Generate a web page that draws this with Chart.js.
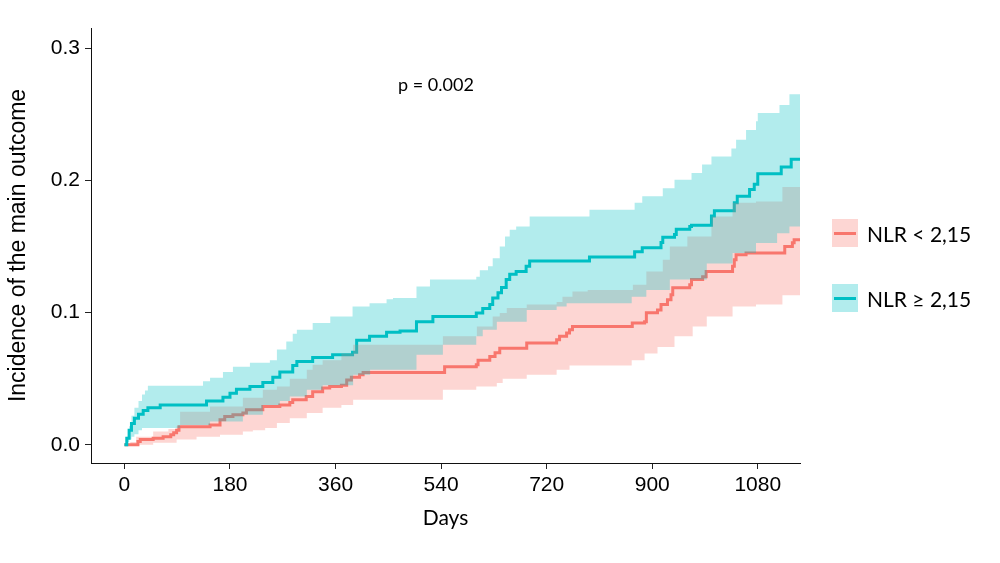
<!DOCTYPE html>
<html>
<head>
<meta charset="utf-8">
<script src="https://cdn.jsdelivr.net/npm/chart.js@4.4.0/dist/chart.umd.min.js"></script>
<style>
  html, body { margin: 0; padding: 0; background: #ffffff; }
  #wrap { position: relative; width: 1000px; height: 563px; }
  #c { position: absolute; left: 0; top: 0; }
  .ptext { position: absolute; left: 436px; top: 84px; transform: translate(-50%, -50%);
           font-family: Lato, "Open Sans", sans-serif; font-size: 18px; color: #000; white-space: nowrap; }
  .leg { position: absolute; left: 832px; height: 28px; display: flex; align-items: center; }
  .key { position: relative; width: 26px; height: 28px; }
  .key span { position: absolute; left: 2px; right: 2px; top: 12.5px; height: 3px; }
  .lab { margin-left: 9px; font-family: Lato, "Open Sans", sans-serif; font-size: 21px; color: #000; white-space: nowrap; }
</style>
</head>
<body>
<div id="wrap">
  <canvas id="c" width="1000" height="563"></canvas>
  <div class="ptext">p = 0.002</div>
  <div class="leg" style="top:219px;"><div class="key" style="background:rgba(248,118,109,0.3);"><span style="background:#F8766D;"></span></div><div class="lab">NLR &lt; 2,15</div></div>
  <div class="leg" style="top:284px;"><div class="key" style="background:rgba(0,191,196,0.3);"><span style="background:#00BFC4;"></span></div><div class="lab">NLR ≥ 2,15</div></div>
</div>
<script>
// ---- data (days, cumulative incidence) ----
const xTicks = [0, 180, 360, 540, 720, 900, 1080];
const yTicks = [0, 0.1, 0.2, 0.3];

// NLR >= 2,15 (teal)
const tealDays = [0,4,8,12,17,24,32,40,61,140,168,180,191,214,236,253,265,287,294,321,355,389,396,418,447,470,498,526,600,611,623,628,637,643,651,657,668,685,691,793,870,883,915,918,938,941,964,967,1001,1006,1040,1045,1066,1074,1080,1120,1137,1152];
const tealEst  = [0,0.005,0.011,0.016,0.020,0.023,0.026,0.028,0.030,0.033,0.036,0.039,0.042,0.044,0.047,0.051,0.055,0.060,0.063,0.066,0.068,0.070,0.079,0.082,0.085,0.086,0.093,0.097,0.0996,0.103,0.106,0.111,0.115,0.119,0.125,0.129,0.131,0.135,0.139,0.142,0.146,0.149,0.153,0.157,0.159,0.163,0.165,0.166,0.173,0.177,0.183,0.188,0.193,0.197,0.205,0.210,0.216,0.216];

const tealHiDays = [0,4,8,12,17,24,30,35,40,134,146,168,185,214,248,260,276,287,294,321,351,389,418,447,458,498,521,600,606,620,628,640,649,657,668,691,793,870,883,918,938,967,985,1001,1035,1043,1060,1077,1080,1117,1134,1152];
const tealHi     = [0,0.006,0.014,0.022,0.028,0.033,0.038,0.041,0.0446,0.048,0.0506,0.055,0.059,0.062,0.064,0.072,0.078,0.084,0.087,0.092,0.097,0.1046,0.107,0.110,0.111,0.1197,0.125,0.127,0.132,0.135,0.141,0.150,0.1576,0.1626,0.165,0.1727,0.1778,0.183,0.188,0.194,0.2005,0.2055,0.212,0.218,0.224,0.2307,0.238,0.2446,0.251,0.257,0.265,0.265];

const tealLoDays = [0,4,8,12,17,24,30,95,146,202,236,265,282,311,338,390,419,498,543,600,611,635,686,737,754,865,890,930,993,1037,1077,1113,1134,1152];
const tealLo     = [0,0.002,0.004,0.006,0.008,0.011,0.0126,0.015,0.0176,0.0227,0.030,0.033,0.0365,0.0416,0.045,0.053,0.0567,0.068,0.0756,0.082,0.087,0.093,0.102,0.1046,0.107,0.112,0.117,0.125,0.137,0.145,0.1525,0.160,0.165,0.165];

// NLR < 2,15 (red)
const redDays = [0,10,23,27,49,66,79,84,89,93,146,163,171,185,202,208,236,265,282,287,310,321,338,350,370,379,387,401,407,546,600,603,623,632,640,686,737,742,754,759,764,866,887,890,909,915,926,932,935,964,967,986,992,1037,1040,1043,1060,1126,1139,1142,1152];
const redEst  = [0,0,0.0025,0.004,0.005,0.006,0.0076,0.009,0.011,0.0136,0.015,0.019,0.0214,0.0227,0.024,0.0265,0.029,0.030,0.032,0.034,0.0365,0.040,0.043,0.044,0.045,0.049,0.051,0.053,0.0547,0.059,0.0605,0.064,0.0668,0.0695,0.073,0.077,0.0794,0.082,0.0845,0.087,0.0895,0.092,0.093,0.0998,0.102,0.106,0.1097,0.1135,0.1187,0.121,0.125,0.127,0.131,0.135,0.140,0.1437,0.145,0.150,0.1528,0.155,0.155];

const redHiDays = [0,10,20,49,75,89,95,146,202,236,260,282,311,321,338,370,390,543,601,628,640,652,686,737,747,764,790,867,890,918,930,960,1001,1037,1077,1122,1152];
const redHi     = [0,0.002,0.006,0.010,0.012,0.014,0.025,0.029,0.0355,0.0416,0.044,0.050,0.0567,0.0605,0.064,0.069,0.0756,0.082,0.0895,0.097,0.0996,0.1034,0.106,0.108,0.112,0.116,0.117,0.121,0.131,0.140,0.150,0.1576,0.1727,0.183,0.184,0.195,0.195];

const redLoDays = [0,49,89,123,163,202,219,240,260,282,311,338,370,390,543,600,635,645,686,737,759,865,887,909,938,969,993,1037,1077,1122,1152];
const redLo     = [0,0.0015,0.004,0.006,0.0076,0.010,0.011,0.0126,0.0164,0.020,0.024,0.028,0.030,0.034,0.0416,0.044,0.0467,0.050,0.053,0.0567,0.060,0.064,0.069,0.074,0.082,0.0895,0.097,0.1046,0.106,0.113,0.113];

const TEAL = '#00BFC4', RED = '#F8766D';
const TEAL_BAND = 'rgba(0,191,196,0.3)', RED_BAND = 'rgba(248,118,109,0.3)';

function pts(xs, ys) { return xs.map((x, i) => ({ x: x, y: ys[i] })); }

const common = { stepped: 'before', pointRadius: 0, pointHoverRadius: 0, tension: 0 };

const datasets = [
  Object.assign({ label: 'tealHi', data: pts(tealHiDays, tealHi), borderWidth: 0, borderColor: 'rgba(0,0,0,0)', backgroundColor: TEAL_BAND, fill: '+1', order: 1 }, common),
  Object.assign({ label: 'tealLo', data: pts(tealLoDays, tealLo), borderWidth: 0, borderColor: 'rgba(0,0,0,0)', fill: false, order: 1 }, common),
  Object.assign({ label: 'redHi', data: pts(redHiDays, redHi), borderWidth: 0, borderColor: 'rgba(0,0,0,0)', backgroundColor: RED_BAND, fill: '+1', order: 2 }, common),
  Object.assign({ label: 'redLo', data: pts(redLoDays, redLo), borderWidth: 0, borderColor: 'rgba(0,0,0,0)', fill: false, order: 2 }, common),
  Object.assign({ label: 'NLR ≥ 2,15', data: pts(tealDays, tealEst), borderWidth: 3, borderColor: TEAL, fill: false, order: 3 }, common),
  Object.assign({ label: 'NLR < 2,15', data: pts(redDays, redEst), borderWidth: 3, borderColor: RED, fill: false, order: 4 }, common)
];

const tickFont = { family: '"Liberation Sans", Arial, sans-serif', size: 21 };

new Chart(document.getElementById('c'), {
  type: 'line',
  data: { datasets: datasets },
  options: {
    responsive: false,
    animation: false,
    devicePixelRatio: 1,
    layout: { padding: { left: 0, right: 200, top: 28, bottom: 0 } },
    plugins: { legend: { display: false }, tooltip: { enabled: false } },
    scales: {
      x: {
        type: 'linear', min: -57, max: 1152,
        afterBuildTicks: s => { s.ticks = xTicks.map(v => ({ value: v })); },
        afterFit: s => { s.height = 100; },
        ticks: { font: tickFont, color: '#000', padding: 4, maxRotation: 0, autoSkip: false, callback: v => String(v) },
        grid: { drawOnChartArea: false, drawTicks: true, tickLength: 6, color: '#222', lineWidth: 1 },
        border: { display: true, color: '#111', width: 1 },
        title: { display: true, text: 'Days', color: '#000', font: { family: 'Lato, "Open Sans", sans-serif', size: 21 }, padding: { top: 0, bottom: 32 } }
      },
      y: {
        type: 'linear', min: -0.0138, max: 0.3152,
        afterBuildTicks: s => { s.ticks = yTicks.map(v => ({ value: v })); },
        afterFit: s => { s.width = 91; },
        ticks: { font: tickFont, color: '#000', padding: 5, callback: v => Number(v).toFixed(1) },
        grid: { drawOnChartArea: false, drawTicks: true, tickLength: 6, color: '#222', lineWidth: 1 },
        border: { display: true, color: '#111', width: 1 },
        title: { display: true, text: 'Incidence of the main outcome', color: '#000', font: { family: '"Liberation Sans", Arial, sans-serif', size: 23 }, padding: { top: 5, bottom: 0 } }
      }
    }
  }
});
</script>
</body>
</html>
